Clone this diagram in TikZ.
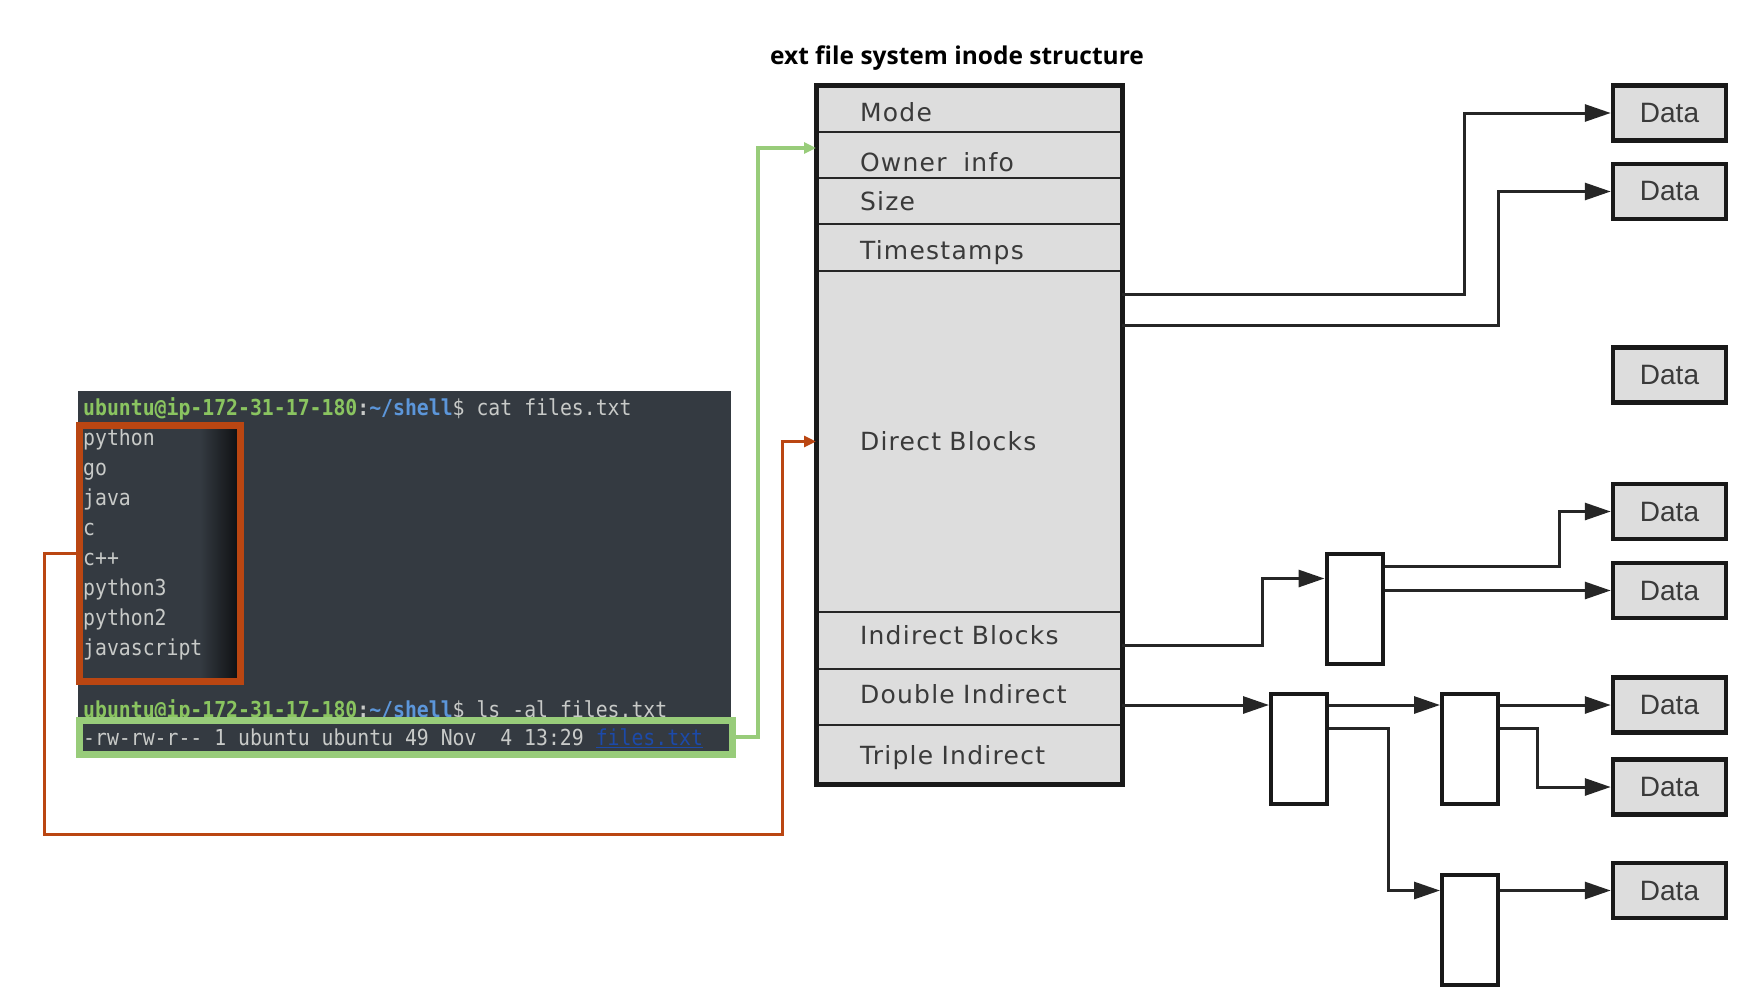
\documentclass[tikz,border=0pt]{standalone}
\usepackage{fontspec}
\usetikzlibrary{arrows.meta,positioning,fit}
\newfontfamily\rowfont[LetterSpace=5]{DejaVu Sans}
\newfontfamily\titlefont{Open Sans}
\newfontfamily\datafont{Liberation Sans}
\newfontfamily\termfont[FakeStretch=0.9]{DejaVu Sans Mono}
\definecolor{rowgray}{RGB}{221,221,221}
\definecolor{rowtext}{RGB}{58,58,58}
\definecolor{termbg}{RGB}{52,58,65}
\definecolor{termgray}{RGB}{200,202,200}
\definecolor{promptgreen}{RGB}{138,196,96}
\definecolor{promptblue}{RGB}{92,150,218}
\definecolor{fileblue}{RGB}{28,74,170}
\definecolor{markred}{RGB}{186,70,18}
\definecolor{markgreen}{RGB}{152,204,122}
\newcommand{\shellprompt}{{\bfseries\color{promptgreen}ubuntu@ip-172-31-17-180}{\bfseries:}{\bfseries\color{promptblue}\textasciitilde/shell}\$}

\begin{document}
\begin{tikzpicture}[
    x=1pt, y=-1pt,
    row/.style={draw=black!85, line width=2.5pt, fill=rowgray, minimum width=306pt, text width=218pt, inner xsep=44pt, inner ysep=0pt, align=left, outer sep=0pt, text height=22pt, text depth=4pt, text=rowtext, font=\rowfont\fontsize{25}{28}\selectfont},
    inode/.style={draw=black!90, line width=5pt, inner sep=0pt},
    datab/.style={draw=black!90, line width=4.5pt, fill=rowgray, minimum width=113pt, minimum height=55pt, inner sep=0pt, text=rowtext, font=\datafont\fontsize{28}{30}\selectfont},
    blk/.style={draw=black!90, line width=4pt, fill=white, minimum width=56pt, minimum height=110pt},
    arrow/.style={-{Triangle[length=26pt,width=17pt]}, line width=3pt, draw=black!85},
    termtxt/.style={anchor=base west, inner sep=0pt, text=termgray, font=\termfont\fontsize{22}{24}\selectfont},
    mark/.style={line width=7pt, minimum width=#1, inner sep=0pt},
    markarrow/.style={-{Triangle[length=12pt,width=11pt]}, line width=3.5pt}
]
\useasboundingbox (0,0) rectangle (1742,998);

% title
\node[font=\titlefont\bfseries\fontsize{24.5}{28}\selectfont] (title) at (957,58) {ext file system inode structure};

% inode table
\node[row, minimum height=47pt, text height=29pt, anchor=north west] (mode) at (816,85) {Mode};
\node[row, minimum height=46pt, text height=36pt, below=0pt of mode] (owner) {Owner\ \ info};
\node[row, minimum height=46pt, below=0pt of owner] (size) {Size};
\node[row, minimum height=47pt, text height=27pt, below=0pt of size] (times) {Timestamps};
\node[row, minimum height=341pt, below=0pt of times] (direct) {Direct Blocks};
\node[row, minimum height=57pt, text height=12pt, below=0pt of direct] (indirect) {Indirect Blocks};
\node[row, minimum height=56pt, text height=17pt, below=0pt of indirect] (double) {Double Indirect};
\node[row, minimum height=59pt, text height=24pt, below=0pt of double] (triple) {Triple Indirect};
\node[inode, fit=(mode)(triple)] (inodebox) {};

% data blocks
\node[datab] (d1) at (1669.5,113) {Data};
\node[datab] (d2) at (1669.5,191.5) {Data};
\node[datab] (d3) at (1669.5,375) {Data};
\node[datab] (d4) at (1669.5,511.5) {Data};
\node[datab] (d5) at (1669.5,590.5) {Data};
\node[datab] (d6) at (1669.5,705) {Data};
\node[datab] (d7) at (1669.5,787) {Data};
\node[datab] (d8) at (1669.5,890.5) {Data};

% pointer blocks
\node[blk] (b1) at (1354.5,608.5) {};
\node[blk] (b2) at (1299,748.5) {};
\node[blk] (b3) at (1470,748.5) {};
\node[blk] (b4) at (1470,930) {};

\draw[arrow] ([yshift=-23pt]direct.north east) -- ++(342,0) |- (d1.west);
\draw[arrow] ([yshift=-54.5pt]direct.north east) -- ++(376,0) |- (d2.west);
\draw[arrow] ([yshift=-5pt]indirect.east) -- ++(140,0) |- ([yshift=30pt]b1.west);
\draw[arrow] ([yshift=42pt]b1.east) -- ++(175,0) |- (d4.west);
\draw[arrow] (b1.east |- d5) -- (d5.west);
\draw[arrow] (double.east |- d6) -- (b2.west |- d6);
\draw[arrow] (b2.east |- d6) -- (b3.west |- d6);
\draw[arrow] (b3.east |- d6) -- (d6.west);
\draw[arrow] ([yshift=20.5pt]b3.east) -- ++(37,0) |- (d7.west);
\draw[arrow] ([yshift=20.5pt]b2.east) -- ++(59,0) |- (b4.west |- d8);
\draw[arrow] (b4.east |- d8) -- (d8.west);

% terminal screenshot
\node[fill=termbg, minimum width=653pt, minimum height=361pt, inner sep=0pt, anchor=north west] (term) at (78,391) {};
\shade[left color=termbg, right color=black!75!termbg] (200,426) rectangle (240,681);
\node[termtxt] (cmd1) at (83,415) {\shellprompt\ cat files.txt};
\foreach \w [count=\i] in {python,go,java,c,c++,python3,python2,javascript}
  \node[termtxt] (out\i) at (83,415+30*\i) {\w};
\node[termtxt] (cmd2) at (83,717) {\shellprompt\ ls -al files.txt};
\node[termtxt] (lsline) at (83,745) {-rw-rw-r-\kern0pt- 1 ubuntu ubuntu 49 Nov\ \ 4 13:29 {\color{fileblue}\underline{files.txt}}};

\node[mark=161.5pt, draw=markred, minimum height=256pt] (redbox) at (159.75,553.5) {};
\node[mark=653pt, draw=markgreen, minimum height=34pt] (greenbox) at (405.5,737) {};

\draw[markarrow, draw=markgreen, -{Triangle[length=12pt,width=11pt,fill=markgreen]}] (greenbox.east) -- ++(22.5,0) |- ([yshift=7pt]owner.west);
\draw[markarrow, draw=markred] (redbox.west) -- ++(-31,0) |- ++(738,281) |- (direct.west);

\end{tikzpicture}
\end{document}
